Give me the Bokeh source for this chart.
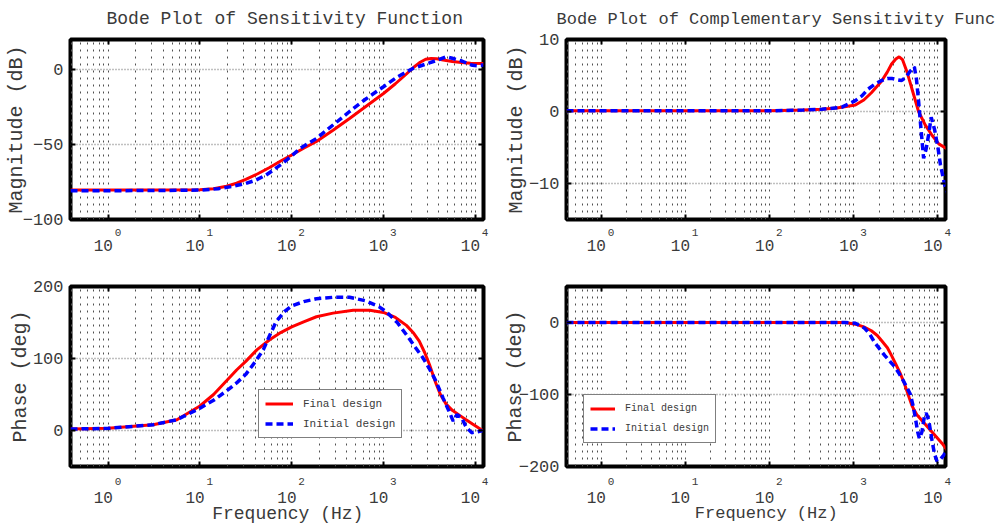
from bokeh.plotting import figure
from bokeh.layouts import column, row
from bokeh.models import (Range1d, LogAxis, LinearAxis, SingleIntervalTicker,
                          FixedTicker, Legend, LegendItem, CustomJSTickFormatter)
from bokeh.embed import file_html
from bokeh.resources import INLINE

FONT = "Liberation Mono"
TXT = "#3a3a3a"
RED = "#ff0000"
BLUE = "#0000ff"
NB = "\u00a0"

X_START, X_END = 0.389, 12300
DECADES = [1, 10, 100, 1000, 10000]
BASE_LABEL = "10"
EXPONENTS = ["0", "1", "2", "3", "4"]

# ---------------- Sensitivity function, magnitude (dB) ----------------
S_MAG_FINAL_F = [0.389, 1, 3.16, 10, 14.1, 19.5, 25.1, 31.6, 42.7, 57.5, 75.9, 100, 135, 186,
                 282, 427, 631, 1000, 1349, 1778, 2138, 2512, 2884, 3311, 3802, 4467, 5623,
                 7079, 8913, 12300]
S_MAG_FINAL = [-80.4, -80.4, -80.4, -80.2, -79.5, -77.8, -75.8, -73.3, -69.5, -65.3, -61.0,
               -57.0, -52.5, -48.0, -40.5, -32.7, -25.0, -16.0, -9.5, -3.0, 1.5, 4.8, 6.8, 7.4,
               7.2, 6.3, 5.3, 4.6, 4.2, 4.0]
S_MAG_INIT_F = [0.389, 1, 3.16, 10, 15.8, 22.4, 31.6, 39.8, 52.5, 63.1, 79.4, 100, 123, 186,
                282, 427, 631, 1000, 1413, 2089, 3162, 3981, 4786, 5623, 7244, 8318, 9333,
                10471, 12300]
S_MAG_INIT = [-80.8, -80.8, -80.7, -80.4, -79.5, -78.0, -76.0, -74.0, -70.4, -67.0, -62.7,
              -57.5, -52.7, -46.0, -37.0, -28.0, -20.0, -11.5, -5.0, 0.7, 4.4, 6.5, 8.5, 7.5,
              5.5, 4.0, 2.8, 2.5, 3.0]

# ---------------- Complementary sensitivity, magnitude (dB) ----------------
T_MAG_FINAL_F = [0.389, 10, 100, 251, 417, 631, 1047, 1318, 1622, 2138, 2512, 2818, 3162,
                 3467, 3802, 4266, 4677, 5129, 5888, 7079, 8511, 10233, 12882]
T_MAG_FINAL = [0.1, 0.1, 0.1, 0.2, 0.3, 0.5, 0.9, 1.6, 2.6, 4.2, 5.5, 6.6, 7.3, 7.6, 7.2, 5.6,
               4.0, 2.4, 0.0, -1.9, -3.3, -4.5, -5.2]
T_MAG_INIT_F = [0.389, 10, 100, 251, 417, 724, 1047, 1259, 1479, 1778, 2138, 2512, 2818, 3311,
                3715, 4169, 4677, 5248, 5559, 5888, 6310, 6761, 7244, 7762, 8318, 9120, 10000,
                10715, 12023, 13183]
T_MAG_INIT = [0.1, 0.1, 0.1, 0.2, 0.3, 0.6, 1.5, 2.2, 3.1, 3.8, 4.3, 4.6, 4.6, 4.4, 4.3, 4.8,
              5.6, 6.2, 4.5, 1.5, -2.6, -6.5, -5.2, -3.2, -0.8, -2.5, -5.0, -7.4, -10.2, -11.5]

# ---------------- Sensitivity function, phase (deg) ----------------
S_PH_FINAL_F = [0.389, 1, 3.09, 5.62, 10, 14.1, 19.5, 25.1, 31.6, 41.7, 57.5, 75.9, 100, 135,
                186, 282, 468, 708, 1000, 1349, 1778, 2138, 2455, 2818, 3162, 3715, 4169, 4786,
                5623, 6761, 7943, 9333, 12023]
S_PH_FINAL = [2, 3, 8, 15, 34, 50, 69, 84, 96, 112, 126, 136, 144, 151, 158, 163, 167, 167, 164,
              157, 146, 135, 124, 108, 92, 66, 50, 37, 28, 21, 15, 9, 0]
S_PH_INIT_F = [0.389, 1, 3.09, 5.62, 10, 14.1, 19.5, 25.1, 31.6, 39.8, 49.0, 57.5, 67.6, 83.2,
               100, 135, 186, 282, 427, 646, 891, 1072, 1413, 1778, 2239, 2692, 3162, 3715, 4467,
               5248, 5754, 6310, 7079, 7943, 9120, 10471, 12023]
S_PH_INIT = [2, 3, 8, 15, 31, 42, 55, 66, 78, 95, 112, 132, 151, 165, 173, 179, 183, 185, 185,
             180, 172, 165, 150, 133, 115, 101, 86, 69, 45, 25, 13, 22, 18, 5, -3, -2, 0]

# ---------------- Complementary sensitivity, phase (deg) ----------------
T_PH_FINAL_F = [0.389, 10, 100, 794, 1047, 1318, 1622, 1905, 2138, 2512, 2818, 3162, 3548, 3981,
                4266, 4571, 4898, 5248, 5623, 6457, 7413, 8511, 9772, 11220, 13183]
T_PH_FINAL = [0, 0, 0, 0, -2.3, -6, -11.5, -18, -25, -35, -46, -58, -70, -84, -94.6, -105, -115,
              -122, -128, -136, -144, -152, -160, -168, -179]
T_PH_INIT_F = [0.389, 10, 100, 794, 1047, 1349, 1549, 1778, 2042, 2344, 2692, 3090, 3467, 3890,
               4266, 4677, 5012, 5370, 5754, 6026, 6457, 6918, 7244, 7762, 8511, 9120, 9772,
               10715, 11749, 12882]
T_PH_INIT = [0, 0, 0, 0, -1, -8, -16, -28, -37, -46, -54, -62, -71, -81, -90, -99, -113, -131,
             -152, -161, -152, -130, -126, -135, -164, -183, -193, -190, -184, -177]

MINOR_X = [m * 10.0 ** e for e in range(-1, 5) for m in range(2, 10)]

PICK_JS = """
let best = 0; let bd = 1e9;
for (let i = 0; i < decs.length; i++) {
  const d = Math.abs(Math.log10(tick) - Math.log10(decs[i]));
  if (d < bd) { bd = d; best = i; }
}
return labs[best];
"""


def style_axis(ax, show_labels, size="17px"):
    ax.axis_line_color = None
    ax.major_tick_in = 5
    ax.major_tick_out = 0
    ax.major_tick_line_width = 2
    ax.major_tick_line_color = "black"
    ax.minor_tick_line_color = None
    if show_labels:
        ax.major_label_text_font = FONT
        ax.major_label_text_font_size = size
        ax.major_label_text_color = TXT
        ax.major_label_standoff = 7
    else:
        ax.major_label_text_font_size = "1px"
        ax.major_label_text_alpha = 0.0
        ax.major_label_standoff = 0


def make_fig(yr, ystep, left, right, top, bottom, fw, fh, ylabel, ylabel_standoff,
             exp_standoff, ten_standoff, xlabel=None, xlabel_size="18px", xlabel_standoff=-7,
             title=None, title_offset=0, title_size="18px", title_standoff=13):
    p = figure(x_axis_type="log", x_range=Range1d(X_START, X_END),
               y_range=Range1d(*yr), frame_width=fw, frame_height=fh,
               min_border_left=left, min_border_right=right,
               min_border_top=top, min_border_bottom=bottom,
               output_backend="svg", toolbar_location=None,
               background_fill_color="white", border_fill_color="white")
    p.outline_line_color = "black"
    p.outline_line_width = 4
    xt = FixedTicker(ticks=DECADES, minor_ticks=MINOR_X)
    yt = SingleIntervalTicker(interval=ystep, num_minor_ticks=0)

    # bottom axis: tick marks + exponent labels
    xa = p.xaxis[0]
    xa.ticker = xt
    style_axis(xa, True, "11px")
    xa.formatter = CustomJSTickFormatter(
        args=dict(decs=DECADES, labs=[NB * 3 + e for e in EXPONENTS]), code=PICK_JS)
    xa.major_label_standoff = exp_standoff

    # second bottom axis: the "10" bases (and the x label)
    xb = LogAxis(ticker=FixedTicker(ticks=DECADES, minor_ticks=[]))
    xb.formatter = CustomJSTickFormatter(
        args=dict(decs=DECADES, labs=[BASE_LABEL + NB for _ in EXPONENTS]), code=PICK_JS)
    xb.axis_line_color = None
    xb.major_tick_line_color = None
    xb.minor_tick_line_color = None
    xb.major_tick_in = 0
    xb.major_tick_out = 0
    xb.major_label_text_font = FONT
    xb.major_label_text_font_size = "16px"
    xb.major_label_text_color = TXT
    xb.major_label_standoff = ten_standoff
    if xlabel:
        xb.axis_label = xlabel
        xb.axis_label_text_font = FONT
        xb.axis_label_text_font_size = xlabel_size
        xb.axis_label_text_font_style = "normal"
        xb.axis_label_text_color = TXT
        xb.axis_label_standoff = xlabel_standoff
    p.add_layout(xb, "below")

    ya = p.yaxis[0]
    ya.ticker = yt
    style_axis(ya, True, "17px")
    ya.axis_label = ylabel
    ya.axis_label_text_font = FONT
    ya.axis_label_text_font_size = "20px"
    ya.axis_label_text_font_style = "normal"
    ya.axis_label_text_color = TXT
    ya.axis_label_standoff = ylabel_standoff

    ra = LinearAxis(ticker=yt)
    style_axis(ra, False)
    p.add_layout(ra, "right")
    ta = LogAxis(ticker=xt)
    style_axis(ta, False)
    p.add_layout(ta, "above")

    if title:
        p.title.text = title
        p.title.text_font = FONT
        p.title.text_font_size = title_size
        p.title.text_font_style = "normal"
        p.title.text_color = TXT
        p.title.align = "left"
        p.title.offset = title_offset
        p.title.standoff = title_standoff

    p.xgrid.ticker = xt
    p.ygrid.ticker = yt
    p.xgrid.grid_line_color = "#505050"
    p.xgrid.grid_line_dash = "2 5"
    p.xgrid.grid_line_width = 1
    p.xgrid.minor_grid_line_color = "#505050"
    p.xgrid.minor_grid_line_dash = "2 5"
    p.xgrid.minor_grid_line_width = 1
    p.ygrid.grid_line_color = "#808080"
    p.ygrid.grid_line_dash = "1 2"
    p.ygrid.grid_line_width = 1.3
    p.ygrid.minor_grid_line_color = None
    return p


def add_curves(p, ff, fv, inf, iv):
    r1 = p.line(ff, fv, line_color=RED, line_width=3)
    r2 = p.line(inf, iv, line_color=BLUE, line_width=3.5, line_dash="7 4")
    return r1, r2


def add_legend(p, r1, r2, loc, fsize, gw):
    lg = Legend(items=[LegendItem(label="Final design", renderers=[r1]),
                       LegendItem(label="Initial design", renderers=[r2])],
                location=loc, margin=0, padding=6, spacing=5,
                glyph_width=gw, glyph_height=15, label_height=15, label_standoff=10,
                label_text_font=FONT, label_text_font_size=fsize, label_text_color=TXT,
                border_line_color="black", border_line_width=1.5,
                background_fill_color="white", background_fill_alpha=1.0)
    p.add_layout(lg, "center")


FH = 180
# top-left: Sensitivity magnitude
p1 = make_fig((-100, 20), 50, 70, 10, 38, 47, 413, FH, "Magnitude (dB)", -8, 3, -4,
              title="Bode Plot of Sensitivity Function", title_offset=36, title_size="18px",
              title_standoff=13)
add_curves(p1, S_MAG_FINAL_F, S_MAG_FINAL, S_MAG_INIT_F, S_MAG_INIT)

# top-right: Complementary sensitivity magnitude
p2 = make_fig((-15, 10), 10, 73, 51, 38, 47, 379, FH, "Magnitude (dB)", -2, 3, -4,
              title="Bode Plot of Complementary Sensitivity Function",
              title_offset=-10, title_size="17px", title_standoff=13)
add_curves(p2, T_MAG_FINAL_F, T_MAG_FINAL, T_MAG_INIT_F, T_MAG_INIT)

# bottom-left: Sensitivity phase
p3 = make_fig((-50, 200), 100, 70, 10, 20, 63, 413, FH, "Phase (deg)", -2, 5, -1,
              xlabel=NB * 2 + "Frequency (Hz)", xlabel_size="18px", xlabel_standoff=-7)
r1, r2 = add_curves(p3, S_PH_FINAL_F, S_PH_FINAL, S_PH_INIT_F, S_PH_INIT)
add_legend(p3, r1, r2, (188, 28), "11px", 28)

# bottom-right: Complementary sensitivity phase
p4 = make_fig((-200, 50), 100, 73, 51, 20, 63, 379, FH, "Phase (deg)", -11, 5, -1,
              xlabel=NB * 2 + "Frequency (Hz)", xlabel_size="17px", xlabel_standoff=-7)
r3, r4 = add_curves(p4, T_PH_FINAL_F, T_PH_FINAL, T_PH_INIT_F, T_PH_INIT)
add_legend(p4, r3, r4, (17, 23), "10px", 25)

layout = column(row(p1, p2), row(p3, p4))

with open("out.html", "w") as f:
    f.write(file_html(layout, INLINE))
